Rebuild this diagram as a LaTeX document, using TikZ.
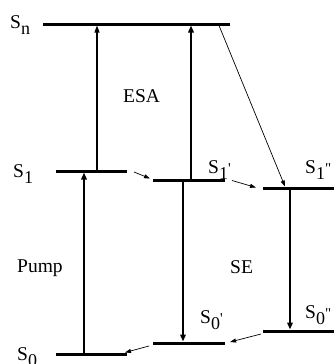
\documentclass[tikz,border=0pt]{standalone}
\usepackage{fontspec}
\setmainfont{Liberation Serif}[Ligatures=TeXOff]
\usetikzlibrary{arrows.meta}
\newcommand{\lvlab}[3]{S\raisebox{-6.5pt}{\fontsize{18}{18}\selectfont #2}\raisebox{0pt}{\fontsize{15}{15}\selectfont #3}}
\begin{document}
\begin{tikzpicture}[x=1pt,y=-1pt,
  level/.style={line width=3pt},
  bigarrow/.style={line width=1.8pt,-{Triangle[length=7pt,width=5.5pt]}},
  medarrow/.style={line width=1.2pt,-{Triangle[length=7pt,width=5pt]}},
  thinarrow/.style={line width=0.7pt,-{Triangle[length=6pt,width=4pt]}},
  lab/.style={font=\fontsize{19.5}{20}\selectfont, inner sep=0pt, anchor=base west}]
\useasboundingbox (0,0) rectangle (334,364);
% level end points
\coordinate (SnL) at (43,24);   \coordinate (SnR) at (230,24);
\coordinate (S1L) at (56,171);  \coordinate (S1R) at (127,171);
\coordinate (S1pL) at (153,180); \coordinate (S1pR) at (225,180);
\coordinate (S1ppL) at (263,188); \coordinate (S1ppR) at (334,188);
\coordinate (S0L) at (56,354);  \coordinate (S0R) at (127,354);
\coordinate (S0pL) at (153,343); \coordinate (S0pR) at (225,343);
\coordinate (S0ppL) at (263,331); \coordinate (S0ppR) at (334,331);
\foreach \a/\b in {SnL/SnR,S1L/S1R,S1pL/S1pR,S1ppL/S1ppR,S0L/S0R,S0pL/S0pR,S0ppL/S0ppR}
  \draw[level] (\a) -- (\b);
% transition end points
\coordinate (esa1a) at (97,169.5);  \coordinate (esa1b) at (97,25.5);
\coordinate (esa2a) at (191,178.5); \coordinate (esa2b) at (191,25.5);
\coordinate (pumpa) at (84,352.5);  \coordinate (pumpb) at (84,172.5);
\coordinate (se1a) at (183,181.5);  \coordinate (se1b) at (183,341.5);
\coordinate (se2a) at (290,189.5);  \coordinate (se2b) at (290,329.5);
\coordinate (diaga) at (219,25.5);  \coordinate (diagb) at (285,186.5);
\coordinate (r1a) at (134,172);     \coordinate (r1b) at (150,178.5);
\coordinate (r2a) at (232,180.5);   \coordinate (r2b) at (256,187.5);
\coordinate (r3a) at (261,334);     \coordinate (r3b) at (230,342);
\coordinate (r4a) at (149,346);     \coordinate (r4b) at (125,352.5);
\draw[medarrow] (esa1a) -- (esa1b);
\draw[bigarrow] (esa2a) -- (esa2b);
\draw[bigarrow] (pumpa) -- (pumpb);
\draw[bigarrow] (se1a) -- (se1b);
\draw[bigarrow] (se2a) -- (se2b);
\draw[thinarrow] (diaga) -- (diagb);
\draw[thinarrow] (r1a) -- (r1b);
\draw[thinarrow] (r2a) -- (r2b);
\draw[thinarrow] (r3a) -- (r3b);
\draw[thinarrow] (r4a) -- (r4b);
% labels
\node[lab] (lSn) at (10,28) {\lvlab{}{n}{}};
\node[lab] (lS1) at (13,177) {\lvlab{}{1}{}};
\node[lab] (lS0) at (17,360) {\lvlab{}{0}{}};
\node[lab] (lS1p) at (208,173) {\lvlab{}{1}{\symbol{39}}};
\node[lab] (lS1pp) at (305,173) {\lvlab{}{1}{\symbol{34}}};
\node[lab] (lS0p) at (200,323) {\lvlab{}{0}{\symbol{39}}};
\node[lab] (lS0pp) at (305,318) {\lvlab{}{0}{\symbol{34}}};
\node[lab] (lESA) at (123,102) {ESA};
\node[lab] (lPump) at (17,272) {Pump};
\node[lab] (lSE) at (230,273) {SE};
\end{tikzpicture}
\end{document}
